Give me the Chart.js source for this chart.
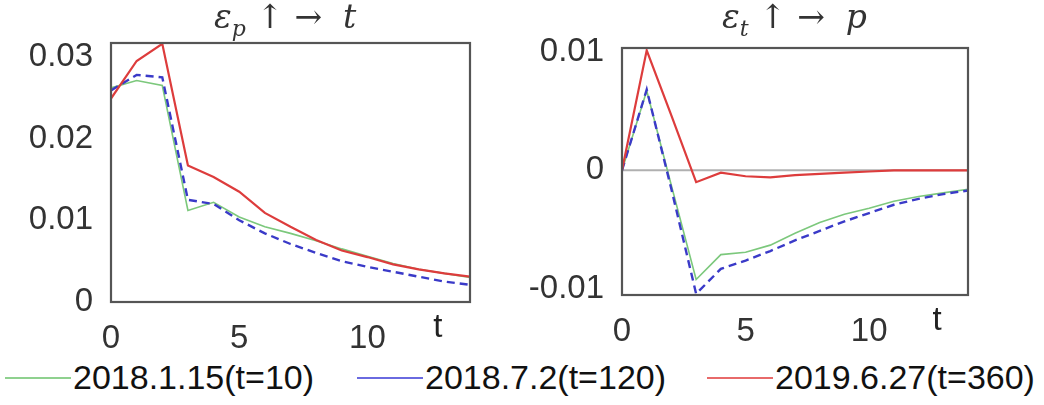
<!DOCTYPE html>
<html>
<head>
<meta charset="utf-8">
<script src="https://cdn.jsdelivr.net/npm/chart.js@4"></script>
<style>
  body { margin: 0; background: #fff; width: 1044px; height: 405px; overflow: hidden; position: relative; }
  .box { position: absolute; top: 0; height: 350px; width: 500px; }
  .ttl { position: absolute; top: -3px; font-family: "DejaVu Serif", "Liberation Serif", serif; font-size: 33px; color: #333; white-space: nowrap; }
  .ttl i sub { font-size: 22px; }
  .legend { position: absolute; top: 358px; left: 0; width: 1044px; height: 46px; font-family: "Liberation Sans", Arial, sans-serif; font-size: 34px; color: #111; }
  .item { position: absolute; top: 0; white-space: nowrap; }
  .item span.ln { display: inline-block; width: 66px; height: 2px; vertical-align: middle; margin-right: 2px; position: relative; top: -2px; }
</style>
</head>
<body>
<div class="box" style="left:0"><canvas id="left"></canvas></div>
<div class="box" style="left:520px"><canvas id="right"></canvas></div>
<div class="ttl" style="left:214px"><i>ε<sub>p</sub></i> ↑ → &nbsp;<i>t</i></div>
<div class="ttl" style="left:722px"><i>ε<sub>t</sub></i> ↑ → &nbsp;<i>p</i></div>
<div class="legend">
  <div class="item" style="left:5px"><span class="ln" style="background:#8fd18f"></span>2018.1.15(t=10)</div>
  <div class="item" style="left:357px"><span class="ln" style="background:#6a6ae0"></span>2018.7.2(t=120)</div>
  <div class="item" style="left:707px"><span class="ln" style="background:#e86a6a"></span>2019.6.27(t=360)</div>
</div>
<script>
const steps = [0, 1, 2, 3, 4, 5, 6, 7, 8, 9, 10, 11, 12, 13, 14];
const seriesNames = ["2018.1.15(t=10)", "2018.7.2(t=120)", "2019.6.27(t=360)"];

// shock to eps_p -> t
const leftGreen = [0.0262, 0.0271, 0.0265, 0.0112, 0.0122, 0.0104, 0.0092, 0.0084, 0.0075, 0.0065, 0.0056, 0.0047, 0.0040, 0.0035, 0.0030];
const leftBlue = [0.0259, 0.0278, 0.0275, 0.0125, 0.0120, 0.0100, 0.0084, 0.0071, 0.0060, 0.0050, 0.0043, 0.0037, 0.0031, 0.0025, 0.0021];
const leftRed = [0.0249, 0.0295, 0.0316, 0.0167, 0.0153, 0.0135, 0.0109, 0.0092, 0.0076, 0.0063, 0.0055, 0.0046, 0.0040, 0.0035, 0.0031];

// shock to eps_t -> p
const rightGreen = [0, 0.0067, -0.0013, -0.0092, -0.0071, -0.0069, -0.0063, -0.0053, -0.0044, -0.0037, -0.0032, -0.0026, -0.0022, -0.0019, -0.0016];
const rightBlue = [0, 0.0068, -0.0016, -0.0104, -0.0083, -0.0076, -0.0068, -0.0059, -0.0051, -0.0043, -0.0036, -0.0029, -0.0024, -0.0020, -0.0017];
const rightRed = [0, 0.0101, 0.0046, -0.0010, -0.0002, -0.0005, -0.0006, -0.0004, -0.0003, -0.0002, -0.0001, 0, 0, 0, 0];
const zeroLine = [0, 0, 0, 0, 0, 0, 0, 0, 0, 0, 0, 0, 0, 0, 0];

const xTicks = [0, 5, 10];
const leftYTicks = [0, 0.01, 0.02, 0.03];
const leftYLabels = ["0", "0.01", "0.02", "0.03"];
const rightYTicks = [-0.01, 0, 0.01];
const rightYLabels = ["-0.01", "0", "0.01"];

const tickFont = { family: "Liberation Sans, Arial, sans-serif", size: 33 };

function pts(vals) {
  return steps.map((t, i) => ({ x: t, y: vals[i] }));
}

// box around plot area plus the "t" axis name
const frame = {
  id: "frame",
  afterDraw(chart) {
    const a = chart.chartArea;
    const ctx = chart.ctx;
    ctx.save();
    ctx.strokeStyle = "#555";
    ctx.lineWidth = 2.2;
    ctx.strokeRect(a.left, a.top, a.right - a.left, a.bottom - a.top);
    ctx.fillStyle = "#222";
    ctx.font = "33px Liberation Sans, Arial, sans-serif";
    ctx.textAlign = "center";
    ctx.textBaseline = "top";
    ctx.fillText("t", chart.scales.x.getPixelForValue(12.75), a.bottom + 9);
    ctx.restore();
  }
};

function makeChart(id, green, blue, red, yMin, yMax, yTicks, yLabels, yWidth, xHeight, pad, zero) {
  const datasets = [];
  if (zero) {
    datasets.push({ label: "zero", data: pts(zero), borderColor: "#b0b0b0", borderWidth: 2, order: 4 });
  }
  datasets.push({ label: seriesNames[0], data: pts(green), borderColor: "#7cc87c", borderWidth: 1.6, order: 3 });
  datasets.push({ label: seriesNames[1], data: pts(blue), borderColor: "#3a3ac8", borderWidth: 2.4, borderDash: [8, 5], order: 2 });
  datasets.push({ label: seriesNames[2], data: pts(red), borderColor: "#dd3c3c", borderWidth: 2.2, order: 1 });

  return new Chart(id, {
    type: "line",
    data: { datasets: datasets },
    options: {
      responsive: true,
      maintainAspectRatio: false,
      animation: false,
      layout: { padding: pad },
      elements: { point: { radius: 0 }, line: { tension: 0 } },
      plugins: { legend: { display: false }, tooltip: { enabled: false } },
      scales: {
        x: {
          type: "linear",
          min: 0,
          max: 14,
          grid: { display: false },
          border: { display: false },
          afterBuildTicks: (s) => { s.ticks = xTicks.map(v => ({ value: v })); },
          afterFit: (s) => { s.height = xHeight; },
          ticks: { color: "#333", font: tickFont, padding: 9, maxRotation: 0 }
        },
        y: {
          min: yMin,
          max: yMax,
          grid: { display: false },
          border: { display: false },
          afterBuildTicks: (s) => { s.ticks = yTicks.map(v => ({ value: v })); },
          afterFit: (s) => { s.width = yWidth; },
          ticks: {
            color: "#333",
            font: tickFont,
            padding: 10,
            callback: (v) => yLabels[yTicks.indexOf(v)]
          }
        }
      }
    },
    plugins: [frame]
  });
}

makeChart("left", leftGreen, leftBlue, leftRed, 0, 0.0317, leftYTicks, leftYLabels, 111, 48,
  { top: 43, right: 30, bottom: 0, left: 0 }, null);
makeChart("right", rightGreen, rightBlue, rightRed, -0.0105, 0.0103, rightYTicks, rightYLabels, 102, 55,
  { top: 48, right: 52, bottom: 0, left: 0 }, zeroLine);
</script>
</body>
</html>
